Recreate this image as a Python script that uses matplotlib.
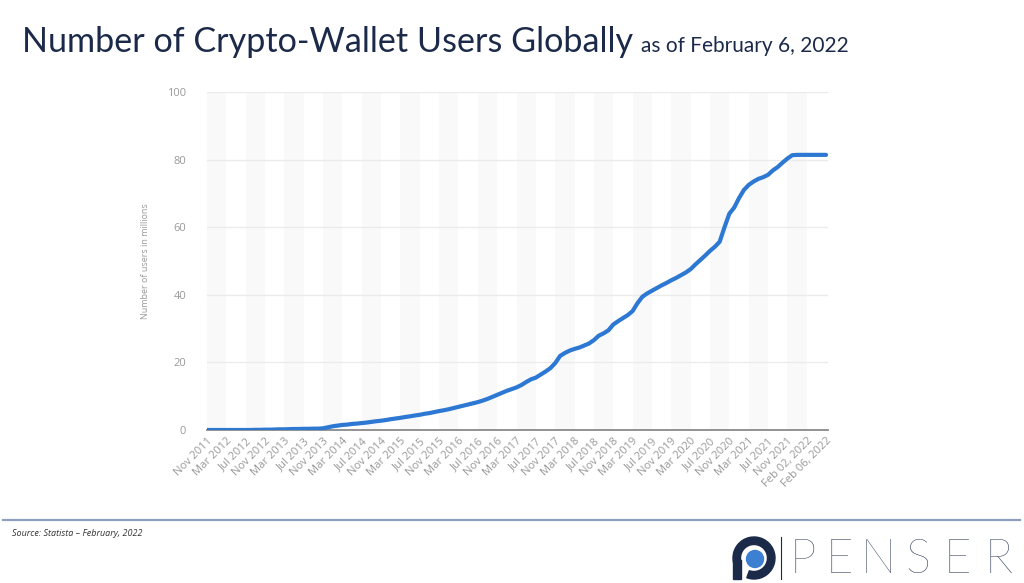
import matplotlib.pyplot as plt
from matplotlib.patches import Wedge, Circle, Rectangle
import numpy as np

# Dados (milhões de usuários, mensal a partir de Nov 2011)
users = [
    0.0, 0.0, 0.0, 0.0, 0.0, 0.0, 0.0, 0.0, 0.0, 0.0, 0.05, 0.05,
    0.1, 0.1, 0.15, 0.2, 0.2, 0.25, 0.3, 0.3, 0.35, 0.35, 0.4, 0.4,
    0.5, 0.8, 1.1, 1.3, 1.5, 1.6, 1.8, 1.9, 2.05, 2.2, 2.4, 2.6,
    2.75, 2.95, 3.2, 3.4, 3.6, 3.85, 4.05, 4.3, 4.5, 4.8, 5.0, 5.3,
    5.6, 5.85, 6.15, 6.5, 6.85, 7.2, 7.55, 7.9, 8.25, 8.7, 9.2, 9.8,
    10.4, 11.0, 11.6, 12.1, 12.6, 13.3, 14.2, 15.0, 15.5, 16.4, 17.3, 18.3,
    19.8, 21.9, 22.8, 23.5, 24.0, 24.4, 25.0, 25.6, 26.6, 27.9, 28.6, 29.5,
    31.2, 32.2, 33.1, 34.0, 35.2, 37.5, 39.4, 40.4, 41.2, 42.0, 42.8, 43.5,
    44.3, 45.0, 45.8, 46.6, 47.6, 49.0, 50.3, 51.6, 53.0, 54.2, 55.7, 60.0,
    64.0, 65.8, 68.6, 71.0, 72.5, 73.5, 74.3, 74.8, 75.5, 76.8, 77.8, 79.1,
    80.3, 81.3, 81.4, 81.4, 81.4, 81.4, 81.4, 81.4, 81.4,
]
tick_labels = [
    "Nov 2011", "Mar 2012", "Jul 2012", "Nov 2012", "Mar 2013", "Jul 2013",
    "Nov 2013", "Mar 2014", "Jul 2014", "Nov 2014", "Mar 2015", "Jul 2015",
    "Nov 2015", "Mar 2016", "Jul 2016", "Nov 2016", "Mar 2017", "Jul 2017",
    "Nov 2017", "Mar 2018", "Jul 2018", "Nov 2018", "Mar 2019", "Jul 2019",
    "Nov 2019", "Mar 2020", "Jul 2020", "Nov 2020", "Mar 2021", "Jul 2021",
    "Nov 2021", "Feb 02, 2022", "Feb 06, 2022",
]
y_ticks = [0, 20, 40, 60, 80, 100]

navy = "#1c2a4a"
gray_txt = "#999999"

fig = plt.figure(figsize=(10.24, 5.83), dpi=100)
W, H = 1024, 583

ax = fig.add_axes([207 / W, 1 - 430 / H, 621 / W, 338 / H])
x = np.arange(len(users))
tick_pos = x[::4]

# Faixas verticais alternadas
for i in range(0, len(tick_pos) - 1, 2):
    ax.axvspan(tick_pos[i], tick_pos[i + 1], color="#f9f9f9", zorder=0, lw=0)

ax.plot(x, users, color="#2c78d2", lw=3, solid_capstyle="round", zorder=3)

ax.set_xlim(0, len(users) - 0.6)
ax.set_ylim(0, 100)
ax.set_yticks(y_ticks)
ax.yaxis.grid(True, color="#ebebeb", lw=1)
ax.set_axisbelow(True)
ax.set_xticks(tick_pos)
ax.set_xticklabels(tick_labels, rotation=45, ha="right", rotation_mode="anchor",
                   fontsize=8, color=gray_txt, family="Open Sans")
for lbl in ax.get_yticklabels():
    lbl.set_family("Open Sans")
ax.tick_params(axis="y", length=0, pad=15, labelsize=8, labelcolor=gray_txt)
ax.tick_params(axis="x", length=0, pad=4)
for s in ["top", "right", "left"]:
    ax.spines[s].set_visible(False)
ax.spines["bottom"].set_color("#8a8a8a")
ax.spines["bottom"].set_linewidth(1.3)
ax.set_ylabel("Number of users in millions", fontsize=6.5, color=gray_txt,
              family="Open Sans", labelpad=12)

# Títulos
fig.text(22 / W, 1 - 52 / H, "Number of Crypto-Wallet Users Globally",
         fontsize=24.6, color=navy, family="Lato", va="baseline")
fig.text(641 / W, 1 - 52 / H, "as of February 6, 2022",
         fontsize=15, color=navy, family="Lato", va="baseline")

# Rodapé
fig.add_artist(plt.Line2D([3 / W, 1020 / W], [1 - 520 / H, 1 - 520 / H],
                          color="#8ea0bd", lw=1.6))
fig.text(12 / W, 1 - 533 / H, "Source: Statista \u2013 February, 2022",
         fontsize=6.5, style="italic", color="#333333", family="Open Sans",
         va="center")

# Logo
lax = fig.add_axes([731 / W, 1 - 581 / H, 46 / W, 46 / H])
lax.set_xlim(-23, 23)
lax.set_ylim(-23, 23)
lax.set_aspect("equal")
lax.axis("off")
lax.add_patch(Wedge((0, 0), 21, 250, 560, width=7.5, color=navy))
lax.add_patch(Rectangle((-21, -21), 7.5, 19, color=navy))
lax.add_patch(Circle((1, -1), 8.5, color="#3d7fd0"))
fig.add_artist(plt.Line2D([781 / W, 781 / W], [1 - 579 / H, 1 - 537 / H],
                          color=navy, lw=0.8))
for ch, cx in zip("PENSER", [803, 839, 878, 918, 957, 998]):
    fig.text(cx / W, 1 - 573 / H, ch, fontsize=34, color=navy, family="Lato",
             fontweight="light", ha="center", va="baseline")

plt.savefig("out.png", dpi=100)
plt.close()
